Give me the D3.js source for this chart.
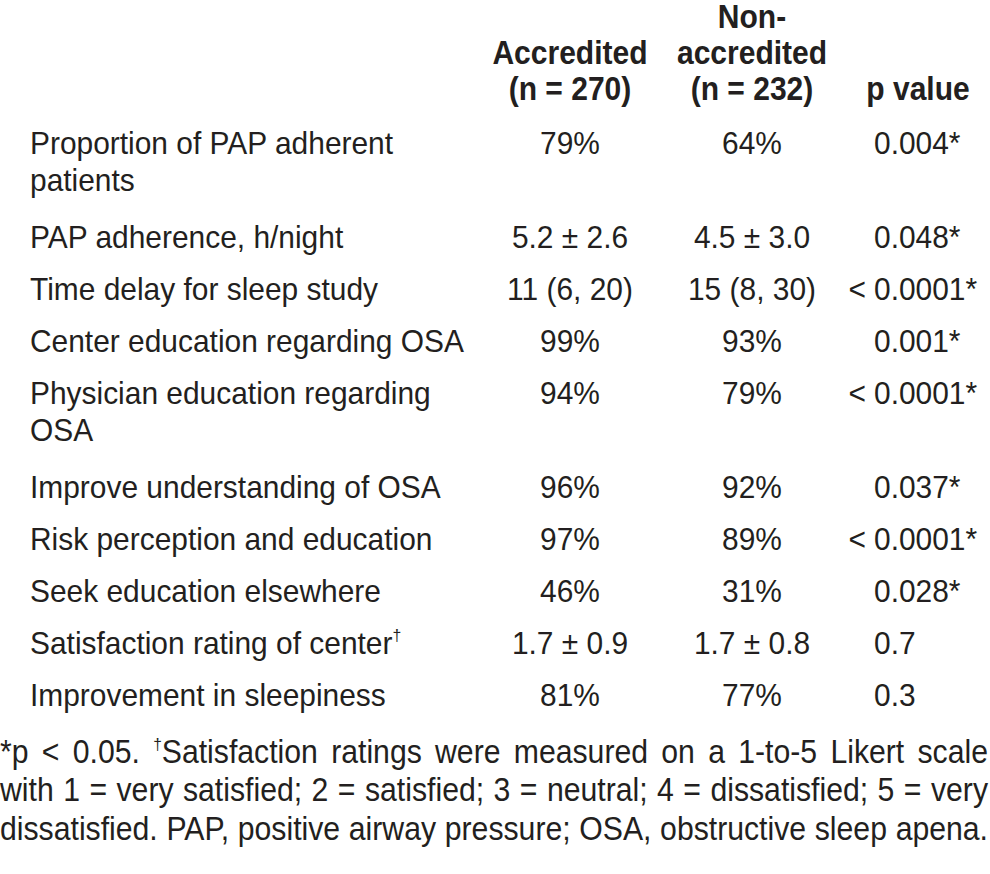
<!DOCTYPE html>
<html>
<head>
<meta charset="utf-8">
<script src="https://cdn.jsdelivr.net/npm/d3@7"></script>
<style>
  html, body { margin: 0; padding: 0; background: #ffffff; }
  svg { display: block; }
  text { font-family: "Liberation Sans", Arial, Helvetica, sans-serif; fill: #231f20; }
</style>
</head>
<body>
<svg id="chart" width="990" height="874"></svg>
<script>
// ---- data ----
const headerAccredited = ["Accredited", "(n = 270)"];
const headerNonAccredited = ["Non-", "accredited", "(n = 232)"];
const headerP = ["p value"];

const categories = [
  ["Proportion of PAP adherent", "patients"],
  ["PAP adherence, h/night"],
  ["Time delay for sleep study"],
  ["Center education regarding OSA"],
  ["Physician education regarding", "OSA"],
  ["Improve understanding of OSA"],
  ["Risk perception and education"],
  ["Seek education elsewhere"],
  ["Satisfaction rating of center\u2020"],
  ["Improvement in sleepiness"]
];
const accredited = ["79%", "5.2 \u00b1 2.6", "11 (6, 20)", "99%", "94%", "96%", "97%", "46%", "1.7 \u00b1 0.9", "81%"];
const nonAccredited = ["64%", "4.5 \u00b1 3.0", "15 (8, 30)", "93%", "79%", "92%", "89%", "31%", "1.7 \u00b1 0.8", "77%"];
const pValues = ["0.004*", "0.048*", "< 0.0001*", "0.001*", "< 0.0001*", "0.037*", "< 0.0001*", "0.028*", "0.7", "0.3"];

const footnoteLines = [
  "*p < 0.05. \u2020Satisfaction ratings were measured on a 1-to-5 Likert scale",
  "with 1 = very satisfied; 2 = satisfied; 3 = neutral; 4 = dissatisfied; 5 = very",
  "dissatisfied. PAP, positive airway pressure; OSA, obstructive sleep apena."
];

// ---- layout ----
const svg = d3.select("#chart");
const fontSize = 32, sx = 0.935;          // condensed look
const headSize = 33, hsx = 0.91;
const colX = d3.scaleOrdinal()
  .domain(["label", "acc", "non", "p"])
  .range([30, 570, 752, 874]);

// helper: condensed text at (x,y)
function ctext(parent, x, y, size, scale) {
  return parent.append("text")
    .attr("transform", `translate(${x},${y}) scale(${scale},1)`)
    .attr("font-size", size);
}

// header
const headerBottom = 100, headerLine = 36;
function headerBlock(lines, x) {
  const n = lines.length;
  const g = svg.append("g");
  lines.forEach((d, i) => {
    ctext(g, x, headerBottom - (n - 1 - i) * headerLine, headSize, hsx)
      .attr("text-anchor", "middle")
      .attr("font-weight", "bold")
      .text(d);
  });
}
headerBlock(headerAccredited, colX("acc"));
headerBlock(headerNonAccredited, colX("non"));
headerBlock(headerP, 918);

// body row baselines
const firstBase = 154, rowStep = 52, extraStep = 42, innerLine = 37;
let extra = 0;
const rowY = categories.map(c => {
  const y = firstBase + extra;
  extra += rowStep + (c.length - 1) * extraStep;
  return y;
});
const yScale = d3.scaleOrdinal().domain(d3.range(categories.length)).range(rowY);

const rows = svg.append("g").selectAll("g.row")
  .data(categories.map((c, i) => ({ i, label: c, acc: accredited[i], non: nonAccredited[i], p: pValues[i] })))
  .join("g").attr("class", "row")
  .attr("transform", d => `translate(0,${yScale(d.i)})`);

rows.each(function(d) {
  const g = d3.select(this);
  d.label.forEach((line, k) => {
    const t = ctext(g, colX("label"), k * innerLine, fontSize, sx);
    if (line.endsWith("\u2020")) {
      t.append("tspan").text(line.slice(0, -1));
      t.append("tspan").attr("font-size", 17).attr("dy", -13).text("\u2020");
    } else {
      t.text(line);
    }
  });
  ctext(g, colX("acc"), 0, fontSize, sx).attr("text-anchor", "middle").text(d.acc);
  ctext(g, colX("non"), 0, fontSize, sx).attr("text-anchor", "middle").text(d.non);
  let pv = d.p;
  if (pv.startsWith("< ")) {
    ctext(g, colX("p") - 8, 0, fontSize, sx).attr("text-anchor", "end").text("<");
    pv = pv.slice(2);
  }
  ctext(g, colX("p"), 0, fontSize, sx).attr("text-anchor", "start").text(pv);
});

// footnote: justified lines
const footX0 = 0, footX1 = 988, footBase = 763, footStep = 38.5, footSize = 33;
const foot = svg.append("g");
// measure natural width of last line to derive horizontal condensation
const probe = foot.append("text").attr("font-size", footSize).text(footnoteLines[2]);
const natural = probe.node().getComputedTextLength();
probe.remove();
const fsx = Math.min(1, (footX1 - 2 - footX0) / natural);
const fg = foot.append("g").attr("transform", `scale(${fsx},1)`);
footnoteLines.forEach((line, li) => {
  const words = line.split(" ");
  const y = footBase + li * footStep;
  const nodes = words.map(w => {
    const t = fg.append("text").attr("y", y).attr("font-size", footSize);
    if (w.startsWith("\u2020")) {
      t.append("tspan").attr("font-size", 17).attr("dy", -13).text("\u2020");
      t.append("tspan").attr("dy", 13).text(w.slice(1));
    } else {
      t.text(w);
    }
    return t;
  });
  const widths = nodes.map(t => t.node().getComputedTextLength());
  const total = d3.sum(widths);
  const span = (footX1 - footX0) / fsx;
  const gap = (span - total) / (words.length - 1);
  let x = footX0 / fsx;
  nodes.forEach((t, k) => {
    t.attr("x", x);
    x += widths[k] + gap;
  });
});
</script>
</body>
</html>
